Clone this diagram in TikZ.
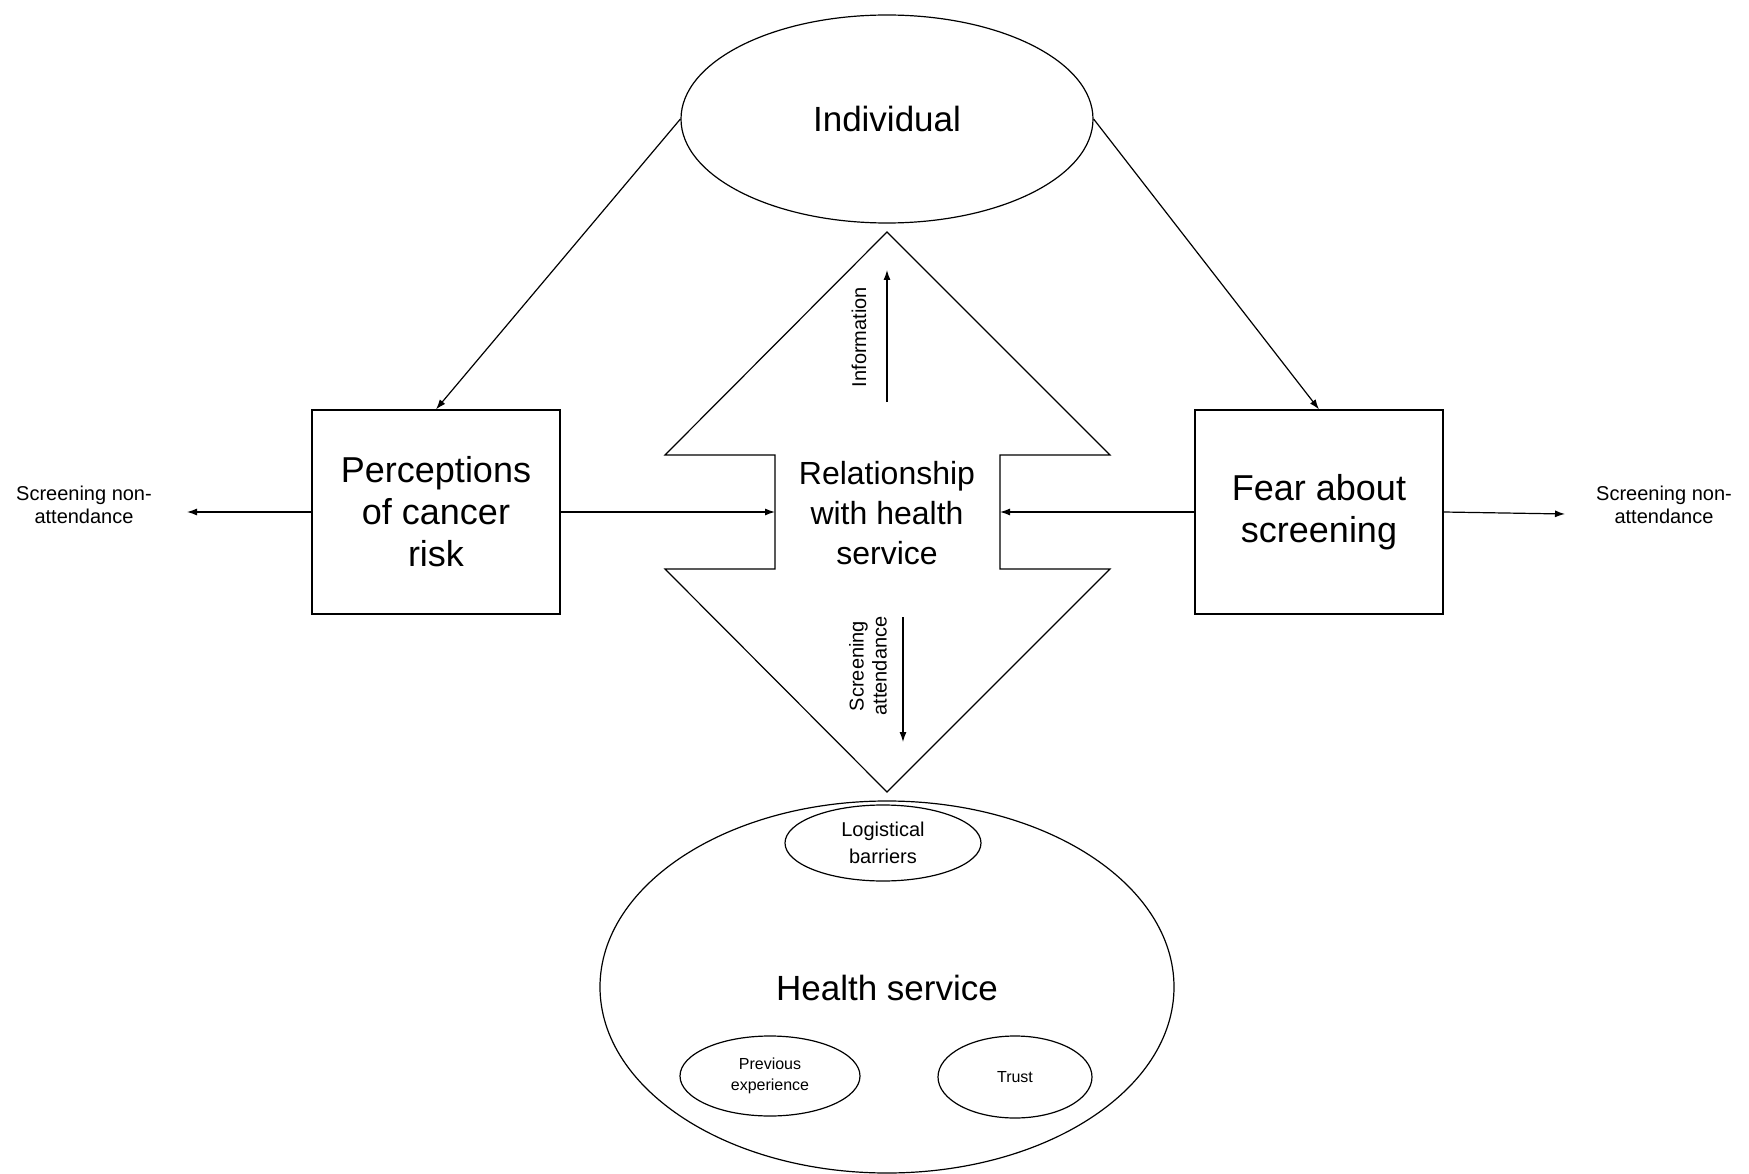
\documentclass[tikz,border=0pt]{standalone}
\usepackage{fontspec}
\setmainfont{Liberation Sans}
\usetikzlibrary{arrows.meta,positioning,shapes.geometric}

\begin{document}
\begin{tikzpicture}[x=1pt, y=-1pt,
		line width=1.2pt,
		basic/.style  = {draw, align=center, inner sep=0pt},
		oval/.style   = {basic, ellipse, font=\fontsize{35}{42}\selectfont},
		box/.style    = {basic, rectangle, minimum width=248pt, minimum height=204pt, font=\fontsize{36}{42}\selectfont},
		inner/.style  = {basic, ellipse, font=\fontsize{16}{21}\selectfont},
		label/.style  = {align=center, font=\fontsize{20}{23}\selectfont},
		>={Latex[length=10pt,width=7pt]}]
		
		\useasboundingbox (0,0) rectangle (1749,1174);
		
		% Top and bottom ellipses
		\node[oval, minimum width=412pt, minimum height=208pt] (ind) at (887,119) {Individual};
		\node[oval, minimum width=574pt, minimum height=372pt] (health) at (887,987) {};
		\node[font=\fontsize{35}{42}\selectfont] (htext) at (887,988) {Health service};
		
		% Parts of the health service
		\node[inner, minimum width=196pt, minimum height=76pt, font=\fontsize{20}{27}\selectfont] (logi) at (883,843) {Logistical\\barriers};
		\node[inner, minimum width=180pt, minimum height=80pt] (prev) at (770,1076) {Previous\\experience};
		\node[inner, minimum width=154pt, minimum height=82pt] (trust) at (1015,1077) {Trust};
		
		% Side boxes
		\node[box] (perc) at (436,512) {Perceptions\\of cancer\\risk};
		\node[box] (fear) at (1319,512) {Fear about\\screening};
		
		% Double arrow in the middle
		\draw (887,232) -- (1110,455) -- (1000,455) -- (1000,569) -- (1110,569)
			-- (887,792) -- (665,569) -- (775,569) -- (775,455) -- (665,455) -- cycle;
		\node[font=\fontsize{32}{40}\selectfont, align=center] (rel) at (887,513) {Relationship\\with health\\service};
		\coordinate (relL) at (775,512);
		\coordinate (relR) at (1000,512);
		
		% Arrows inside the double arrow
		\coordinate (infoA) at (887,402);
		\coordinate (infoB) at (887,270);
		\node[label, rotate=90] (info) at (859,337) {Information};
		\coordinate (attA) at (903,617);
		\coordinate (attB) at (903,742);
		\node[label, rotate=90] (att) at (868,666) {Screening\\attendance};
		\draw[->] (infoA) -- (infoB);
		\draw[->] (attA) -- (attB);
		
		% Non-attendance on both sides
		\node[label] (nonL) at (84,505) {Screening non-\\attendance};
		\node[label] (nonR) at (1664,505) {Screening non-\\attendance};
		\coordinate (endL) at (187,512);
		\coordinate (endR) at (1565,514);
		
		% Connectors
		\draw[->] (ind.west) -- (perc.north);
		\draw[->] (ind.east) -- (fear.north);
		\draw[->] (perc.east) -- (relL);
		\draw[->] (fear.west) -- (relR);
		\draw[->] (perc.west) -- (endL);
		\draw[->] (fear.east) -- (endR);
		
	\end{tikzpicture}
\end{document}
